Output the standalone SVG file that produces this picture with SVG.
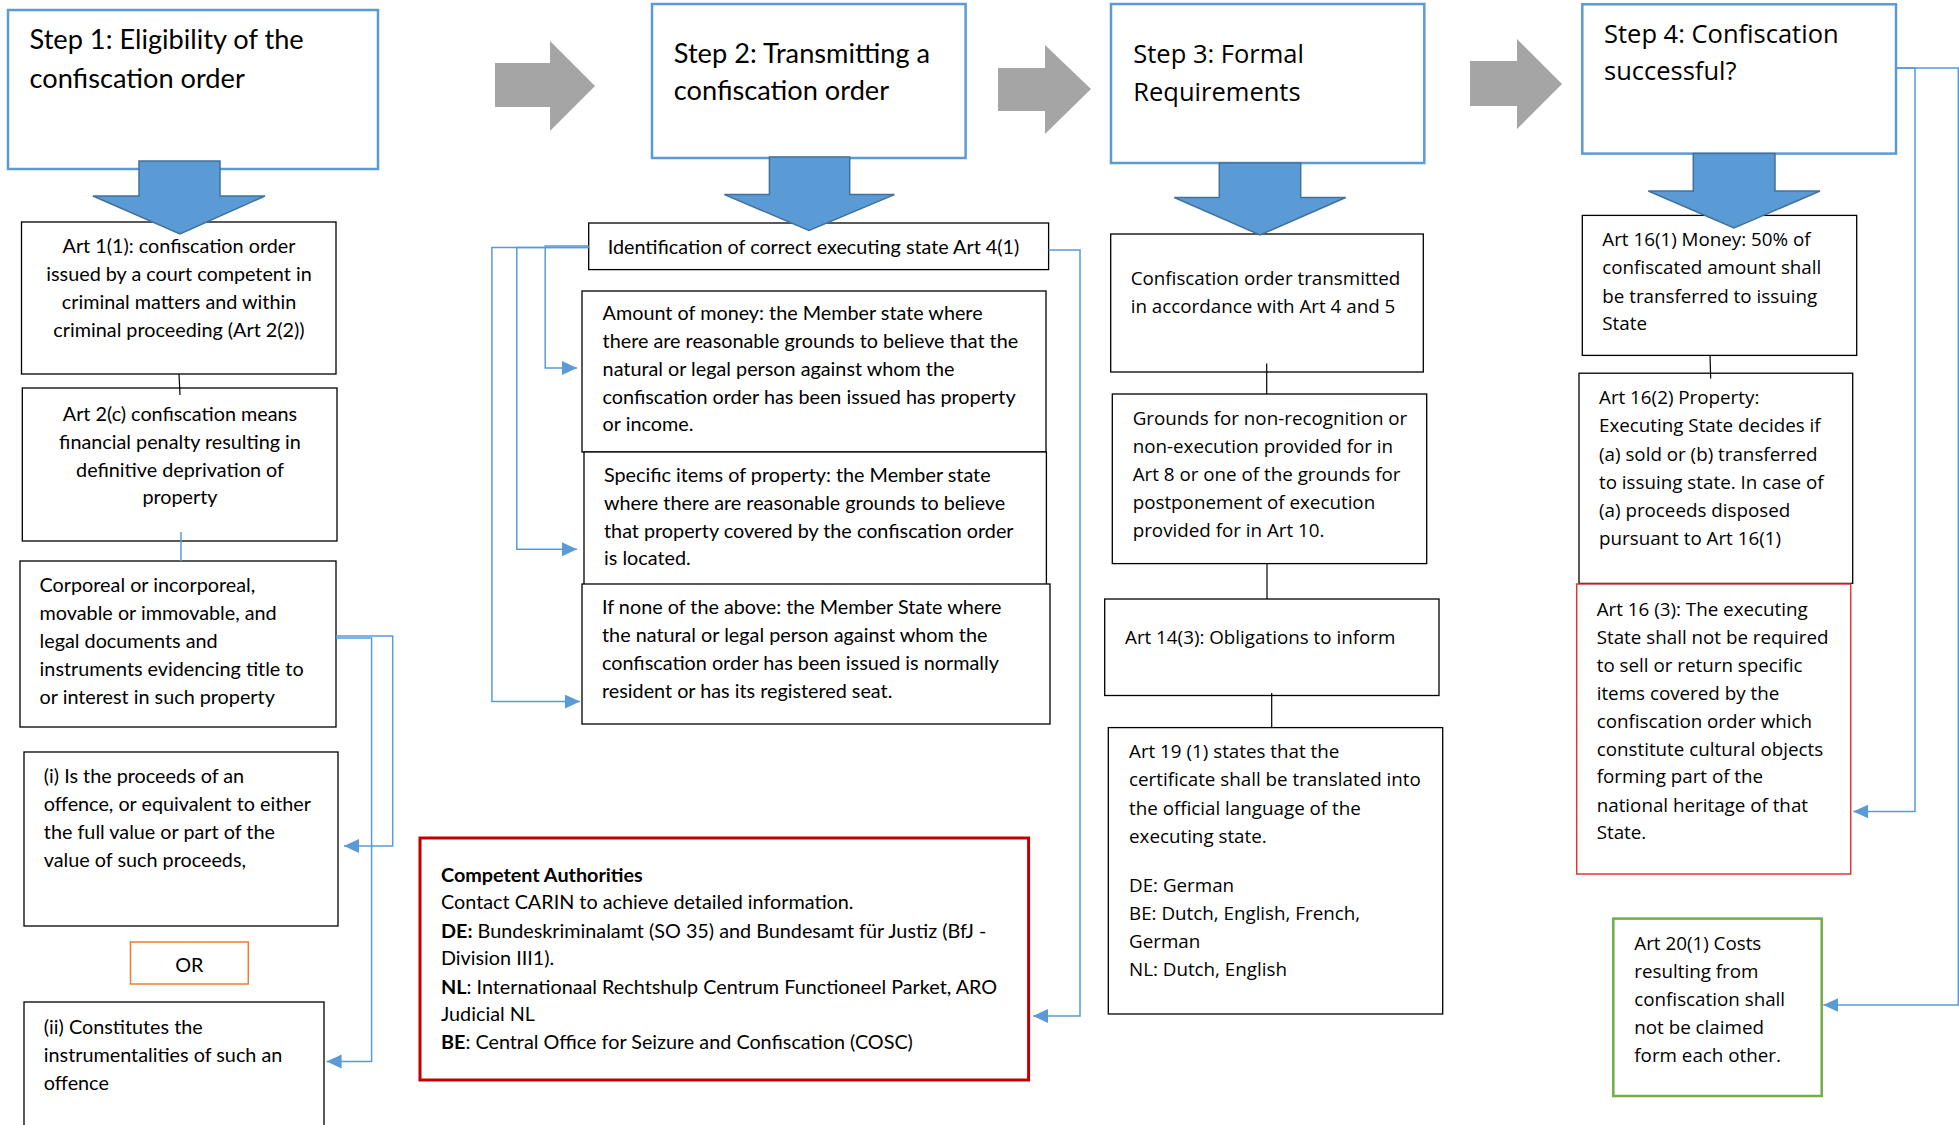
<svg xmlns="http://www.w3.org/2000/svg" width="1959" height="1125" viewBox="0 0 1959 1125">
<style>
.bg{fill:#fff}
.step{fill:#fff;stroke:#5B9BD5;stroke-width:2.5}
.box{fill:#fff;stroke:#000;stroke-width:1.3}
.red{fill:#fff;stroke:#C00000;stroke-width:3}
.lred{fill:#fff;stroke:#E0353A;stroke-width:1.5}
.green{fill:#fff;stroke:#70AD47;stroke-width:2.5}
.orange{fill:#fff;stroke:#ED7D31;stroke-width:1.5}
.gray{fill:#A5A5A5}
.barrow{fill:#5B9BD5;stroke:#41719C;stroke-width:1.5}
.c{font-family:Lato,"Liberation Sans",sans-serif;font-size:19.8px;fill:#000}
.ch{font-family:Lato,"Liberation Sans",sans-serif;font-size:27.2px;fill:#000}
.s{font-family:"Open Sans","Noto Sans",sans-serif;font-size:18.8px;fill:#000}
.sh{font-family:"Open Sans","Noto Sans",sans-serif;font-size:25.5px;fill:#000}
.b{font-weight:bold}
.mid{text-anchor:middle}
.conn{fill:none;stroke:#5B9BD5;stroke-width:1.5}
.blk{fill:none;stroke:#000;stroke-width:1.2}
</style>
<defs>
<marker id="ah" markerUnits="userSpaceOnUse" markerWidth="16" markerHeight="16" refX="15" refY="7" orient="auto">
<path d="M0,0 L15,7 L0,14 z" fill="#5B9BD5"/>
</marker>
</defs>
<rect class="bg" x="0" y="0" width="1959" height="1125"/>

<g id="gray-arrows">
<polygon class="gray" points="495,63 550,63 550,41 595,86 550,131 550,107 495,107"/>
<polygon class="gray" points="998,68 1045,68 1045,45 1091,89 1045,134 1045,111 998,111"/>
<polygon class="gray" points="1470,61 1517,61 1517,39 1562,84 1517,129 1517,106 1470,106"/>
</g>

<!-- Column 1 -->
<g id="step1">
<rect class="step" x="8" y="10" width="370" height="159"/>
<text class="ch" x="29.5" y="49">Step 1: Eligibility of the</text>
<text class="ch" x="29.5" y="87.5">confiscation order</text>
</g>
<g id="art1-1">
<rect class="box" x="21.5" y="222" width="314.5" height="152"/>
<text class="c mid" x="179" y="253">Art 1(1): confiscation order</text>
<text class="c mid" x="179" y="281">issued by a court competent in</text>
<text class="c mid" x="179" y="309">criminal matters and within</text>
<text class="c mid" x="179" y="337">criminal proceeding (Art 2(2))</text>
</g>
<g id="art2c">
<rect class="box" x="22.3" y="388" width="314.7" height="153"/>
<text class="c mid" x="180" y="420.7">Art 2(c) confiscation means</text>
<text class="c mid" x="180" y="448.6">financial penalty resulting in</text>
<text class="c mid" x="180" y="476.8">definitive deprivation of</text>
<text class="c mid" x="180" y="503.6">property</text>
</g>
<g id="corporeal">
<rect class="box" x="20" y="561" width="316" height="166"/>
<text class="c" x="39.6" y="592">Corporeal or incorporeal,</text>
<text class="c" x="39.6" y="619.5">movable or immovable, and</text>
<text class="c" x="39.6" y="647.5">legal documents and</text>
<text class="c" x="39.6" y="676">instruments  evidencing title to</text>
<text class="c" x="39.6" y="704">or interest in such property</text>
</g>
<g id="proceeds">
<rect class="box" x="24" y="752" width="314" height="174"/>
<text class="c" x="43.8" y="783">(i) Is the proceeds of an</text>
<text class="c" x="43.8" y="811">offence, or equivalent to either</text>
<text class="c" x="43.8" y="839">the full value or part of the</text>
<text class="c" x="43.8" y="867">value of such proceeds,</text>
</g>
<g id="or">
<rect class="orange" x="130.5" y="942" width="117.8" height="42"/>
<text class="c mid" x="189.4" y="972">OR</text>
</g>
<g id="instrumentalities">
<rect class="box" x="24" y="1002" width="300" height="140"/>
<text class="c" x="43.8" y="1034">(ii) Constitutes the</text>
<text class="c" x="43.8" y="1061.6">instrumentalities of such an</text>
<text class="c" x="43.8" y="1089.6">offence</text>
</g>

<!-- Column 2 -->
<g id="step2">
<rect class="step" x="652" y="4" width="313.6" height="154"/>
<text class="ch" x="673.8" y="63">Step 2: Transmitting a</text>
<text class="ch" x="673.8" y="100">confiscation order</text>
</g>
<g id="identification">
<rect class="box" x="588.7" y="223" width="459.9" height="46.6"/>
<text class="c" x="607.7" y="254">Identification of correct executing state Art 4(1)</text>
</g>
<g id="amount">
<rect class="box" x="582" y="291" width="464" height="161"/>
<text class="c" x="602.6" y="319.6">Amount of money: the Member state where</text>
<text class="c" x="602.6" y="348">there are reasonable grounds to believe that the</text>
<text class="c" x="602.6" y="376">natural or legal person against whom the</text>
<text class="c" x="602.6" y="403.6">confiscation order has been issued has property</text>
<text class="c" x="602.6" y="431.4">or income.</text>
</g>
<g id="specific">
<rect class="box" x="584" y="452" width="462.4" height="133"/>
<text class="c" x="604" y="482">Specific items of property: the Member state</text>
<text class="c" x="604" y="510">where there are reasonable grounds to believe</text>
<text class="c" x="604" y="537.5">that property covered by the confiscation order</text>
<text class="c" x="604" y="565">is located.</text>
</g>
<g id="none">
<rect class="box" x="582" y="584" width="468" height="140"/>
<text class="c" x="602" y="614">If none of the above: the Member State where</text>
<text class="c" x="602" y="642">the natural or legal person against whom the</text>
<text class="c" x="602" y="670">confiscation order has been issued is normally</text>
<text class="c" x="602" y="697.6">resident or has its  registered seat.</text>
</g>
<g id="authorities">
<rect class="red" x="420" y="838" width="608.6" height="242"/>
<text class="c b" x="441" y="881.8">Competent Authorities</text>
<text class="c" x="441" y="908.8">Contact CARIN to achieve detailed information.</text>
<text class="c" x="441" y="937.7"><tspan class="b">DE:</tspan> Bundeskriminalamt (SO 35) and Bundesamt für Justiz (BfJ -</text>
<text class="c" x="441" y="965.4">Division III1).</text>
<text class="c" x="441" y="993.5"><tspan class="b">NL</tspan>: Internationaal Rechtshulp Centrum Functioneel Parket, ARO</text>
<text class="c" x="441" y="1021.3">Judicial NL</text>
<text class="c" x="441" y="1049.4"><tspan class="b">BE</tspan>: Central Office for Seizure and Confiscation (COSC)</text>
</g>

<!-- Column 3 -->
<g id="step3">
<rect class="step" x="1111" y="4" width="313.3" height="159"/>
<text class="sh" x="1133.3" y="63">Step 3: Formal</text>
<text class="sh" x="1133.3" y="100.5">Requirements</text>
</g>
<g id="transmitted">
<rect class="box" x="1110.7" y="234" width="312.6" height="138"/>
<text class="s" x="1130.7" y="284.6">Confiscation order transmitted</text>
<text class="s" x="1130.7" y="313">in accordance with Art 4 and 5</text>
</g>
<g id="grounds">
<rect class="box" x="1112.3" y="394" width="314.4" height="169.6"/>
<text class="s" x="1132.7" y="425">Grounds for non-recognition or</text>
<text class="s" x="1132.7" y="452.9">non-execution provided for in</text>
<text class="s" x="1132.7" y="481">Art 8 or one of the grounds for</text>
<text class="s" x="1132.7" y="509">postponement of execution</text>
<text class="s" x="1132.7" y="536.8">provided for in Art 10.</text>
</g>
<g id="art14">
<rect class="box" x="1104.7" y="599" width="334.3" height="96.5"/>
<text class="s" x="1125" y="644">Art 14(3): Obligations to inform</text>
</g>
<g id="art19">
<rect class="box" x="1108.3" y="727.6" width="334.4" height="286.4"/>
<text class="s" x="1129" y="757.5">Art 19 (1) states that the</text>
<text class="s" x="1129" y="786.3">certificate shall be translated into</text>
<text class="s" x="1129" y="814.8">the official language of the</text>
<text class="s" x="1129" y="842.9">executing state.</text>
<text class="s" x="1129" y="891.5">DE: German</text>
<text class="s" x="1129" y="919.6">BE: Dutch, English, French,</text>
<text class="s" x="1129" y="948">German</text>
<text class="s" x="1129" y="976.2">NL: Dutch, English</text>
</g>

<!-- Column 4 -->
<g id="step4">
<rect class="step" x="1582.3" y="4.3" width="313.7" height="149.3"/>
<text class="sh" x="1604" y="43">Step 4: Confiscation</text>
<text class="sh" x="1604" y="80.4">successful?</text>
</g>
<g id="art16-1">
<rect class="box" x="1582.3" y="215.4" width="274.4" height="140"/>
<text class="s" x="1602.3" y="246.4">Art 16(1) Money: 50% of</text>
<text class="s" x="1602.3" y="274.3">confiscated amount shall</text>
<text class="s" x="1602.3" y="302.9">be transferred to issuing</text>
<text class="s" x="1602.3" y="330.4">State</text>
</g>
<g id="art16-2">
<rect class="box" x="1579" y="373.2" width="273.7" height="210.2"/>
<text class="s" x="1599" y="403.6">Art 16(2) Property:</text>
<text class="s" x="1599" y="432">Executing State decides if</text>
<text class="s" x="1599" y="460.7">(a) sold or (b) transferred</text>
<text class="s" x="1599" y="488.6">to issuing state. In case of</text>
<text class="s" x="1599" y="517">(a) proceeds disposed</text>
<text class="s" x="1599" y="544.6">pursuant to Art 16(1)</text>
</g>
<g id="art16-3">
<rect class="lred" x="1576.7" y="584" width="274" height="290"/>
<text class="s" x="1596.7" y="615.9">Art 16 (3): The executing</text>
<text class="s" x="1596.7" y="643.6">State shall not be required</text>
<text class="s" x="1596.7" y="671.7">to sell or return specific</text>
<text class="s" x="1596.7" y="699.8">items covered by the</text>
<text class="s" x="1596.7" y="727.6">confiscation order which</text>
<text class="s" x="1596.7" y="755.7">constitute cultural objects</text>
<text class="s" x="1596.7" y="783.4">forming part of the</text>
<text class="s" x="1596.7" y="811.5">national heritage of that</text>
<text class="s" x="1596.7" y="839.3">State.</text>
</g>
<g id="art20">
<rect class="green" x="1613.3" y="918.6" width="208.4" height="177.4"/>
<text class="s" x="1634.3" y="949.9">Art 20(1) Costs</text>
<text class="s" x="1634.3" y="978">resulting from</text>
<text class="s" x="1634.3" y="1006">confiscation shall</text>
<text class="s" x="1634.3" y="1033.9">not be claimed</text>
<text class="s" x="1634.3" y="1061.6">form each other.</text>
</g>

<g id="blue-arrows">
<polygon class="barrow" points="139,161 220,161 220,196 265,196 180,234 93,196 139,196"/>
<polygon class="barrow" points="769.4,157 849.7,157 849.7,194.6 894.4,194.6 809,230.4 724.4,194.6 769.4,194.6"/>
<polygon class="barrow" points="1219.3,163 1300.7,163 1300.7,197.5 1345.7,197.5 1260,235 1174.3,197.5 1219.3,197.5"/>
<polygon class="barrow" points="1693.3,153.6 1775,153.6 1775,191 1820,191 1734,228 1648.3,191 1693.3,191"/>
</g>

<g id="connectors">
<path class="blk" d="M179,374 L180,395"/>
<path class="conn" d="M181,532 V561"/>
<path class="conn" d="M336,636 H392.7 V846 H344" marker-end="url(#ah)"/>
<path class="conn" d="M336,638 H371.6 V1061.6 H326.6" marker-end="url(#ah)"/>
<path class="conn" d="M588.7,246 H545.2 V368 H577" marker-end="url(#ah)"/>
<path class="conn" d="M588.7,247.5 H516.8 V549.3 H577" marker-end="url(#ah)"/>
<path class="conn" d="M588.7,247.5 H491.9 V701.6 H580" marker-end="url(#ah)"/>
<path class="conn" d="M1048.6,250 H1080 V1016 H1033" marker-end="url(#ah)"/>
<path class="blk" d="M1266.7,363.6 V394"/>
<path class="blk" d="M1267,563.6 V599"/>
<path class="blk" d="M1271.7,693 V727.6"/>
<path class="blk" d="M1710,355.4 L1710.7,378.6"/>
<path class="conn" d="M1896,68 H1915 V811.5 H1853.3" marker-end="url(#ah)"/>
<path class="conn" d="M1896,68 H1958.3 V1005 H1823.3" marker-end="url(#ah)"/>
</g>
</svg>
